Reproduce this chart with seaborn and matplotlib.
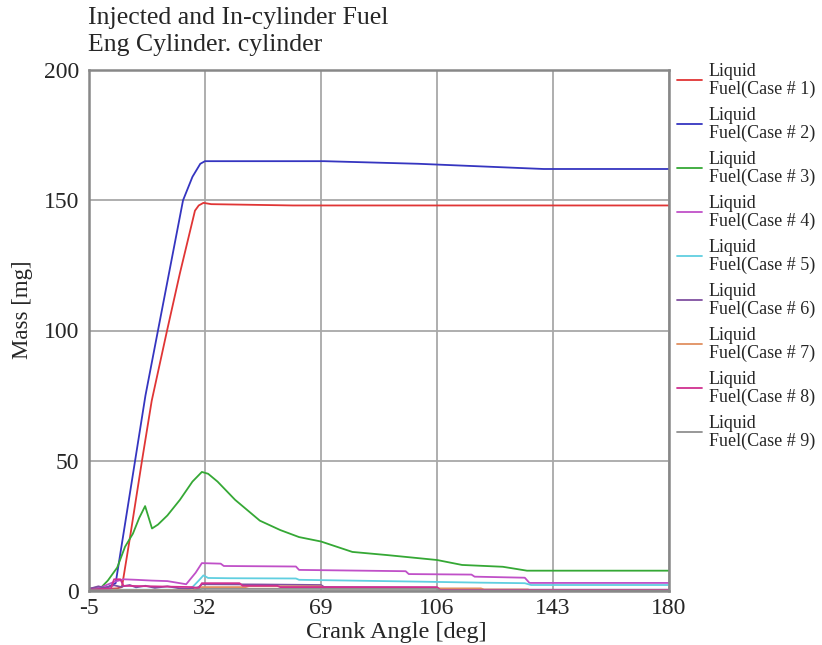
import pandas as pd
import matplotlib.pyplot as plt
import seaborn as sns

# knot points (crank angle in deg, mass in mg)
case1_x = [-5, 0, 4, 5.5, 8, 11.9, 15, 19.9, 24, 28.8, 30, 31.5, 34, 60, 180]
case1_y = [0.5, 0.8, 1, 1.5, 20, 50, 73, 100, 122, 146, 148, 149, 148.5, 148, 148]

case2_x = [-5, -2, 1, 3.5, 6, 9.7, 13, 17, 21, 25, 28, 30.5, 32, 70, 100, 120, 140, 180]
case2_y = [0.5, 1, 1.5, 3, 22, 50, 75, 100, 125, 150, 159, 164, 165, 165, 164, 163, 162, 162]

case3_x = [-5, -1, 1, 4, 6.5, 9, 11, 12.9, 15.1, 17, 20, 24, 28, 31, 33, 36, 41.6, 49.5,
           56, 62, 69, 79, 90, 106, 114, 127, 134.7, 180]
case3_y = [0.5, 1.5, 4, 9, 17, 22, 28, 32.6, 24, 25.5, 29, 35, 42, 45.7, 45, 42, 35, 27,
           23.4, 20.7, 19, 15, 13.8, 11.9, 10, 9.3, 7.8, 7.8]

case4_x = [-5, -1, 3, 6, 10, 15, 20, 24, 26, 29, 31, 37, 38, 61, 62, 96, 97, 117, 118,
           134, 135.5, 180]
case4_y = [1, 1.5, 3.5, 4.5, 4.3, 4.0, 3.8, 3.0, 2.6, 7, 10.7, 10.5, 9.6, 9.4, 8.1, 7.6,
           6.5, 6.3, 5.5, 5.1, 3.1, 3.1]

case5_x = [-5, 26, 28, 30, 31.5, 33, 40, 61, 62, 100, 120, 134, 136, 180]
case5_y = [0.5, 0.5, 1.5, 4, 6, 5, 4.9, 4.8, 4.3, 3.6, 3.2, 3.0, 2.3, 2.3]

case6_x = [-5, -2, 0, 3, 5, 8, 10, 13, 16, 20, 24, 27, 30, 31, 50, 69, 70, 106, 107, 180]
case6_y = [0.8, 1.8, 1.2, 2.2, 1.6, 2.3, 1.4, 2.0, 1.2, 1.8, 1.0, 0.8, 1.5, 2.6, 2.5, 2.3,
           1.5, 1.2, 0.5, 0.5]

case7_x = [-5, 28, 31, 45, 46, 69, 70, 120, 121, 135, 136, 180]
case7_y = [0.3, 0.3, 1.5, 1.5, 1.8, 1.8, 1.0, 1.0, 0.6, 0.6, 0.2, 0.2]

case8_x = [-5, 2, 3, 5, 6, 28, 30, 31, 43, 44, 55, 56, 106, 107, 180]
case8_y = [0.5, 1, 4.5, 4.5, 2, 1.5, 1, 3.0, 3.0, 2.0, 2.0, 1.5, 1.5, 0.4, 0.4]

case9_x = [-5, 28, 31, 106, 107, 180]
case9_y = [0.3, 0.2, 0.8, 0.8, 0.2, 0.2]

labels = ["Liquid\nFuel(Case # %d)" % i for i in range(1, 10)]
colors = ["#e03535", "#3535c0", "#35a835", "#c050c8", "#60cfe0",
          "#8050a0", "#e09060", "#d03090", "#909090"]
xs = [case1_x, case2_x, case3_x, case4_x, case5_x, case6_x, case7_x, case8_x, case9_x]
ys = [case1_y, case2_y, case3_y, case4_y, case5_y, case6_y, case7_y, case8_y, case9_y]

frames = []
for lab, x, y in zip(labels, xs, ys):
    frames.append(pd.DataFrame({"angle": x, "mass": y, "case": lab}))
df = pd.concat(frames, ignore_index=True)

sns.set_theme(style="whitegrid")
plt.rcParams['font.family'] = ['Liberation Serif', 'DejaVu Serif']
plt.rcParams['axes.unicode_minus'] = False

fig = plt.figure(figsize=(8.22, 6.45), dpi=100)
ax = fig.add_axes([89 / 822, 54 / 645, 580 / 822, 521 / 645])

sns.lineplot(data=df, x="angle", y="mass", hue="case", palette=colors,
             sort=False, estimator=None, linewidth=1.3, ax=ax)

ax.set_xlim(-5, 180)
ax.set_ylim(0, 200)
ax.set_xticks([-5, 32, 69, 106, 143, 180])
ax.set_yticks([0, 50, 100, 150, 200])
ax.tick_params(length=0, labelsize=17)
ax.tick_params(axis="x", pad=5)
ax.tick_params(axis="y", pad=7)
ax.grid(True, color="#a8a8a8", linewidth=1.3)
for s in ax.spines.values():
    s.set_color("#888888")
    s.set_linewidth(1.8)

ax.set_xlabel("Crank Angle [deg]", fontsize=17.5)
ax.xaxis.set_label_coords(0.53, -0.06)
ax.set_ylabel("Mass [mg]", fontsize=16.5)
ax.yaxis.set_label_coords(-0.097, 0.54)

fig.text(88 / 822, 1 - 7 / 645, "Injected and In-cylinder Fuel\nEng Cylinder. cylinder",
         ha="left", va="top", fontsize=18.5, linespacing=1.3)

handles, labs = ax.get_legend_handles_labels()
leg = ax.legend(handles, labs, loc="upper left", bbox_to_anchor=(0.995, 1.035),
                frameon=False, fontsize=13, handlelength=1.4, handletextpad=0.35,
                labelspacing=0.5, borderaxespad=0.2)
for t in leg.get_texts():
    t.set_linespacing(1.05)

fig.savefig("out.png", dpi=100, facecolor="white")
